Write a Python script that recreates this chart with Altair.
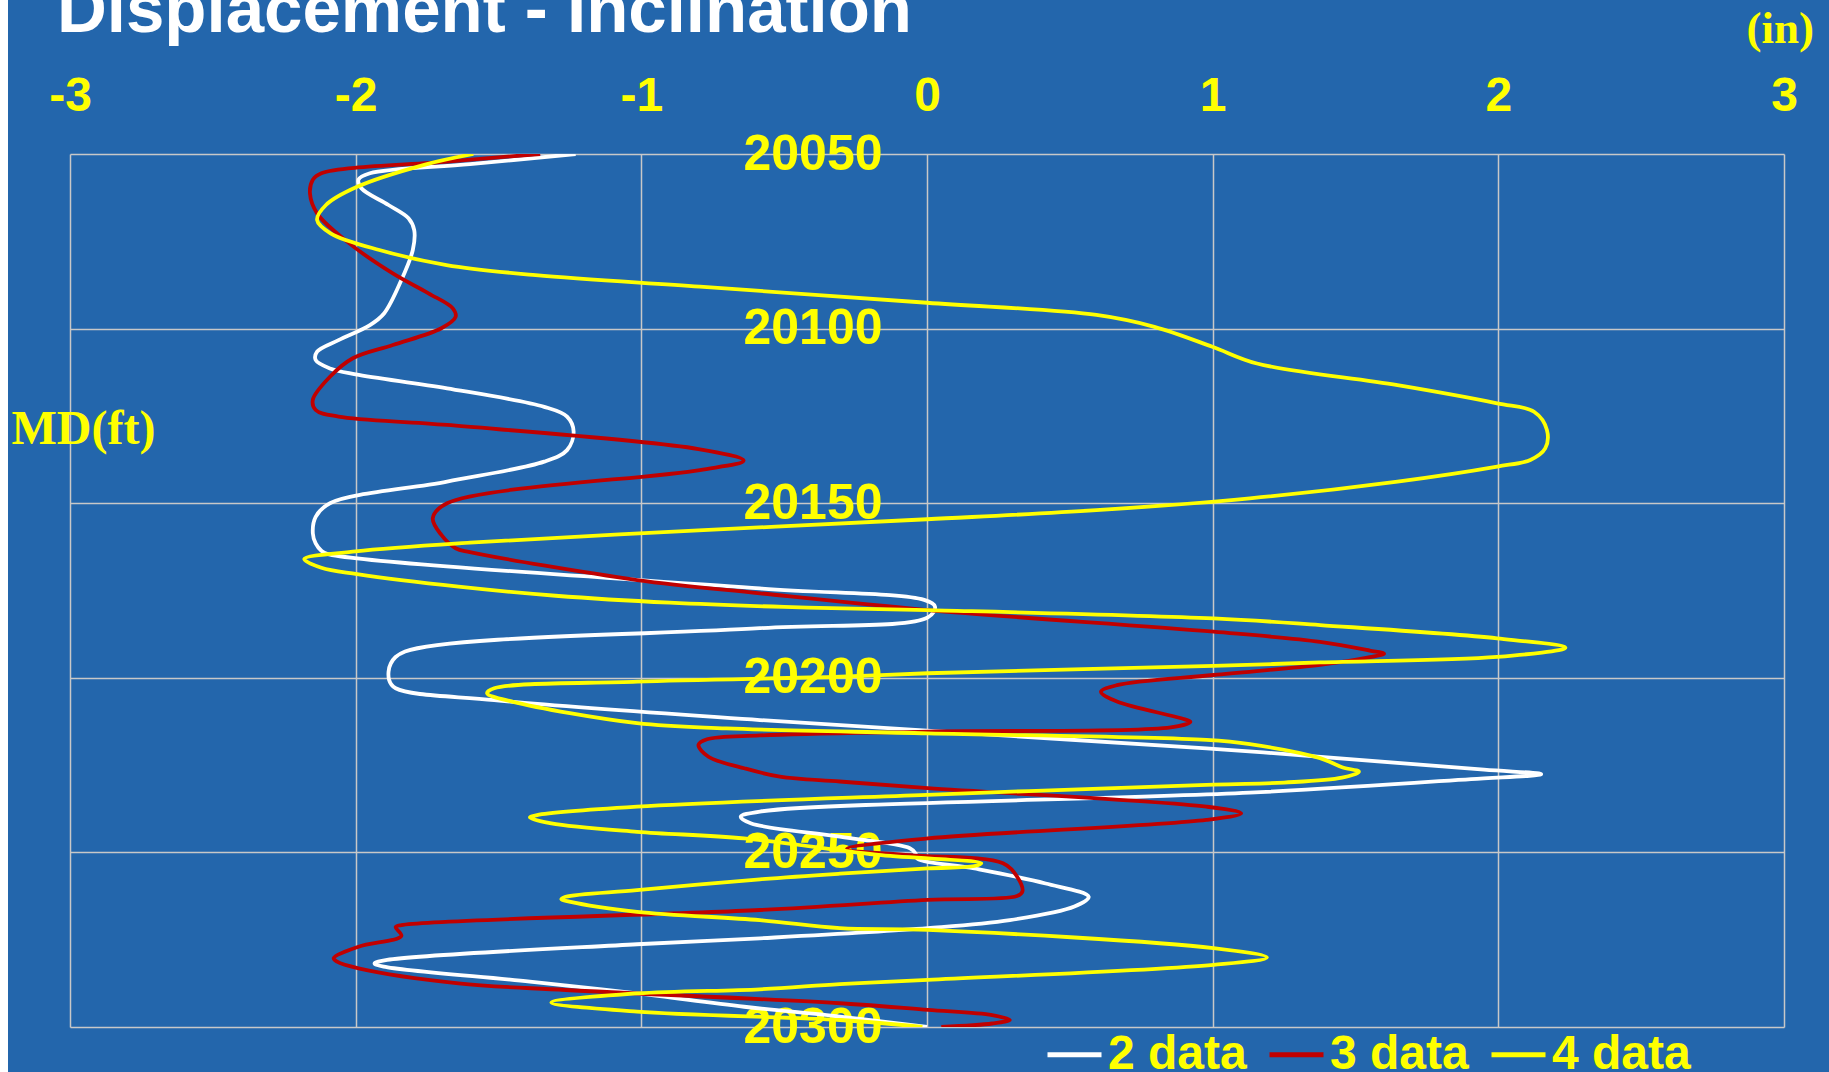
import altair as alt
import pandas as pd

# Measured depth (ft) and displacement (in) for each survey run
md_2 = [20050.0, 20052.9, 20055.5, 20057.3, 20059.8, 20064.6, 20068.4, 20071.8, 20077.5, 20086.1,
        20095.6, 20099.0, 20103.3, 20106.6, 20109.0, 20111.4, 20113.1, 20117.1, 20122.4, 20125.2,
        20129.5, 20134.8, 20138.1, 20143.8, 20150.0, 20153.9, 20158.6, 20161.5, 20163.6, 20164.5,
        20174.4, 20177.7, 20179.6, 20182.7, 20185.8, 20192.5, 20195.9, 20200.6, 20203.0, 20206.4,
        20212.1, 20220.2, 20226.3, 20227.6, 20229.0, 20232.9, 20238.3, 20239.8, 20241.7, 20245.5,
        20248.8, 20250.3, 20251.7, 20254.6, 20258.9, 20262.7, 20265.5, 20269.4, 20271.7, 20274.6,
        20276.3, 20280.8, 20281.8, 20282.7, 20287.0, 20290.4, 20294.2, 20297.0, 20300.0]
disp_2 = [-1.23, -1.60, -1.95, -1.99, -1.98, -1.885, -1.815, -1.795, -1.80, -1.84,
          -1.90, -1.95, -2.06, -2.135, -2.14, -2.09, -2.00, -1.68, -1.34, -1.26,
          -1.237, -1.26, -1.34, -1.68, -2.09, -2.14, -2.15, -2.14, -2.12, -2.10,
          -0.585, -0.01, 0.028, 0.003, -0.585, -1.827, -1.877, -1.883, -1.86, -1.515,
          -0.585, 0.978, 1.95, 2.15, 1.905, 1.13, -0.585, -0.652, -0.615, -0.305,
          -0.06, -0.04, -0.035, 0.166, 0.415, 0.566, 0.516, 0.29, 0.003, -0.585,
          -1.015, -1.89, -1.934, -1.902, -1.39, -1.015, -0.64, -0.305, 0.0]

md_3 = [20050.0, 20052.2, 20055.5, 20057.4, 20061.3, 20067.0, 20075.1, 20084.2, 20089.9, 20094.2,
        20096.6, 20099.9, 20104.7, 20108.5, 20113.8, 20120.4, 20123.3, 20125.2, 20127.6, 20134.5,
        20137.8, 20140.5, 20150.0, 20154.3, 20159.1, 20162.9, 20164.0, 20172.0, 20175.8, 20180.6,
        20186.8, 20189.7, 20192.2, 20193.1, 20194.1, 20196.3, 20199.2, 20202.1, 20204.0, 20206.8,
        20211.6, 20212.6, 20214.2, 20215.4, 20216.5, 20217.6, 20219.2, 20222.6, 20225.9, 20228.3,
        20229.7, 20231.6, 20236.9, 20238.8, 20240.7, 20246.0, 20249.0, 20250.8, 20253.1, 20256.9,
        20261.2, 20262.5, 20263.6, 20266.5, 20270.8, 20271.4, 20273.9, 20277.0, 20280.3, 20281.3,
        20283.2, 20287.5, 20289.4, 20293.2, 20295.1, 20296.6, 20298.0, 20299.0, 20300.0]
disp_3 = [-1.354, -1.68, -2.12, -2.15, -2.16, -2.135, -2.03, -1.87, -1.745, -1.66,
          -1.65, -1.70, -1.87, -2.01, -2.09, -2.15, -2.14, -2.06, -1.68, -0.80,
          -0.642, -0.795, -1.68, -1.73, -1.70, -1.65, -1.60, -1.015, -0.585, 0.003,
          1.003, 1.376, 1.55, 1.60, 1.55, 1.376, 1.003, 0.665, 0.609, 0.665,
          0.89, 0.922, 0.853, 0.003, -0.585, -0.77, -0.80, -0.765, -0.64, -0.515,
          -0.305, 0.003, 0.978, 1.10, 0.978, 0.003, -0.28, -0.06, 0.266, 0.315,
          0.334, 0.315, 0.003, -0.585, -1.84, -1.86, -1.84, -1.99, -2.077, -2.065,
          -1.99, -1.64, -1.265, -0.305, 0.003, 0.228, 0.29, 0.228, 0.05]

md_4 = [20050.0, 20053.1, 20059.4, 20064.6, 20068.9, 20072.7, 20077.5, 20081.8, 20084.7, 20088.0,
        20092.6, 20096.1, 20099.5, 20105.2, 20110.0, 20116.2, 20121.4, 20123.8, 20129.0, 20134.3,
        20137.6, 20139.5, 20143.8, 20148.6, 20152.0, 20154.6, 20157.8, 20161.3, 20163.8, 20166.0,
        20168.5, 20170.3, 20173.9, 20176.5, 20178.5, 20179.7, 20180.6, 20183.0, 20184.9, 20188.7,
        20191.4, 20194.0, 20195.6, 20196.6, 20198.7, 20199.7, 20201.1, 20203.0, 20204.4, 20206.8,
        20213.0, 20214.5, 20215.9, 20217.8, 20219.0, 20223.0, 20225.6, 20226.9, 20228.6, 20230.0,
        20230.6, 20233.5, 20236.9, 20239.3, 20240.0, 20241.7, 20244.1, 20246.0, 20250.8, 20253.1,
        20253.9, 20254.6, 20256.1, 20257.7, 20260.8, 20262.7, 20263.4, 20264.1, 20267.0, 20269.4,
        20271.7, 20272.2, 20277.4, 20280.1, 20282.2, 20286.5, 20287.7, 20289.2, 20290.4, 20293.0,
        20295.6, 20298.0, 20300.0]
disp_4 = [-1.588, -1.76, -1.995, -2.104, -2.135, -2.088, -1.917, -1.682, -1.37, -0.795,
          0.0, 0.593, 0.796, 0.999, 1.155, 1.647, 1.996, 2.125, 2.17, 2.164,
          2.112, 1.996, 1.647, 1.13, 0.593, 0.0, -0.80, -1.60, -2.0, -2.18,
          -2.12, -1.995, -1.64, -1.3, -0.9, -0.5, 0.0, 1.003, 1.376, 1.996,
          2.235, 1.996, 1.376, 1.003, 0.003, -0.305, -1.015, -1.515, -1.54, -1.452,
          -1.015, -0.702, 0.003, 0.978, 1.13, 1.376, 1.453, 1.512, 1.453, 1.25,
          1.003, 0.0, -1.015, -1.365, -1.39, -1.315, -1.015, -0.64, -0.16, 0.19,
          0.166, 0.003, -0.305, -0.585, -1.015, -1.265, -1.28, -1.252, -1.015, -0.585,
          -0.305, 0.003, 1.003, 1.19, 1.003, 0.003, -0.305, -0.585, -1.015, -1.315,
          -1.015, -0.305, -0.016]

series_names = ["2 data", "3 data", "4 data"]
series_colors = ["#FFFFFF", "#C00000", "#FFFF00"]

x_ticks = [-3, -2, -1, 0, 1, 2, 3]
y_ticks = [20050, 20100, 20150, 20200, 20250, 20300]

chart_title = "Displacement - Inclination"

rows = []
for name, mds, ds in zip(series_names, [md_2, md_3, md_4], [disp_2, disp_3, disp_4]):
    for m, d in zip(mds, ds):
        rows.append({"series": name, "md": m, "disp": d})
df = pd.DataFrame(rows)

BG = "#2366AC"
YELLOW = "#FFFF00"
GRID = "#C8C8C8"
SANS = "Liberation Sans"
SERIF = "Liberation Serif"

x_axis = alt.Axis(
    orient="top", values=x_ticks, labelExpr="'' + datum.value",
    labelFont=SANS, labelFontSize=48, labelFontWeight="bold", labelColor=YELLOW,
    labelBaseline="alphabetic", labelPadding=44, labelFlush=False, labelOverlap=False,
    ticks=False, tickSize=0, domain=False,
    grid=True, gridColor=GRID, gridWidth=1.5, gridOpacity=1,
    title="(in)", titleFont=SERIF, titleFontSize=45, titleFontWeight="bold", titleColor=YELLOW,
    titleAngle=0, titleAlign="left", titleBaseline="alphabetic", titleX=1676, titleY=-112,
)

y_axis = alt.Axis(
    orient="left", values=y_ticks, labelExpr="'' + datum.value", offset=-812,
    labelFont=SANS, labelFontSize=50, labelFontWeight="bold", labelColor=YELLOW,
    labelAlign="right", labelBaseline="middle", labelPadding=0, labelFlush=False, labelOverlap=False,
    ticks=False, tickSize=0, domain=False,
    grid=True, gridColor=GRID, gridWidth=1.5, gridOpacity=1,
    title="MD(ft)", titleFont=SERIF, titleFontSize=48, titleFontWeight="bold", titleColor=YELLOW,
    titleAngle=0, titleAlign="left", titleBaseline="alphabetic", titleX=-871, titleY=289,
)

legend = alt.Legend(
    orient="none", legendX=975, legendY=871, direction="horizontal", title=None,
    symbolType="stroke", symbolSize=2916, symbolStrokeWidth=5, symbolOpacity=1,
    labelFont=SANS, labelFontSize=48, labelFontWeight="bold", labelColor=YELLOW,
    labelOffset=4, labelLimit=0, columnPadding=12, padding=0,
)

lines = alt.Chart(df).mark_line(interpolate="catmull-rom", clip=True, strokeWidth=3.8).encode(
    x=alt.X("disp:Q", scale=alt.Scale(domain=[-3, 3], nice=False, zero=False), axis=x_axis),
    y=alt.Y("md:Q", scale=alt.Scale(domain=[20050, 20300], reverse=True, nice=False, zero=False), axis=y_axis),
    color=alt.Color("series:N", scale=alt.Scale(domain=series_names, range=series_colors), legend=legend),
    order=alt.Order("md:Q"),
)

# thin white margin strip along the left edge of the canvas
strip = alt.Chart(alt.Data(values=[{}])).mark_rect(color="white").encode(
    x=alt.value(-70), x2=alt.value(-62), y=alt.value(-154), y2=alt.value(918)
)

# heading, partly running off the top edge
heading = alt.Chart(alt.Data(values=[{"t": chart_title}])).mark_text(
    align="left", baseline="alphabetic", color="white", font=SANS, fontSize=69, fontWeight="bold",
).encode(x=alt.value(-13), y=alt.value(-122), text="t:N")

chart = alt.layer(strip, lines, heading).properties(
    width=1714,
    height=873,
    padding={"left": 70, "top": 154, "right": 45, "bottom": 45},
    autosize=alt.AutoSizeParams(type="none"),
    background=BG,
).configure_view(stroke=None)

chart.save("out.html", embed_options={"renderer": "svg", "actions": False})
